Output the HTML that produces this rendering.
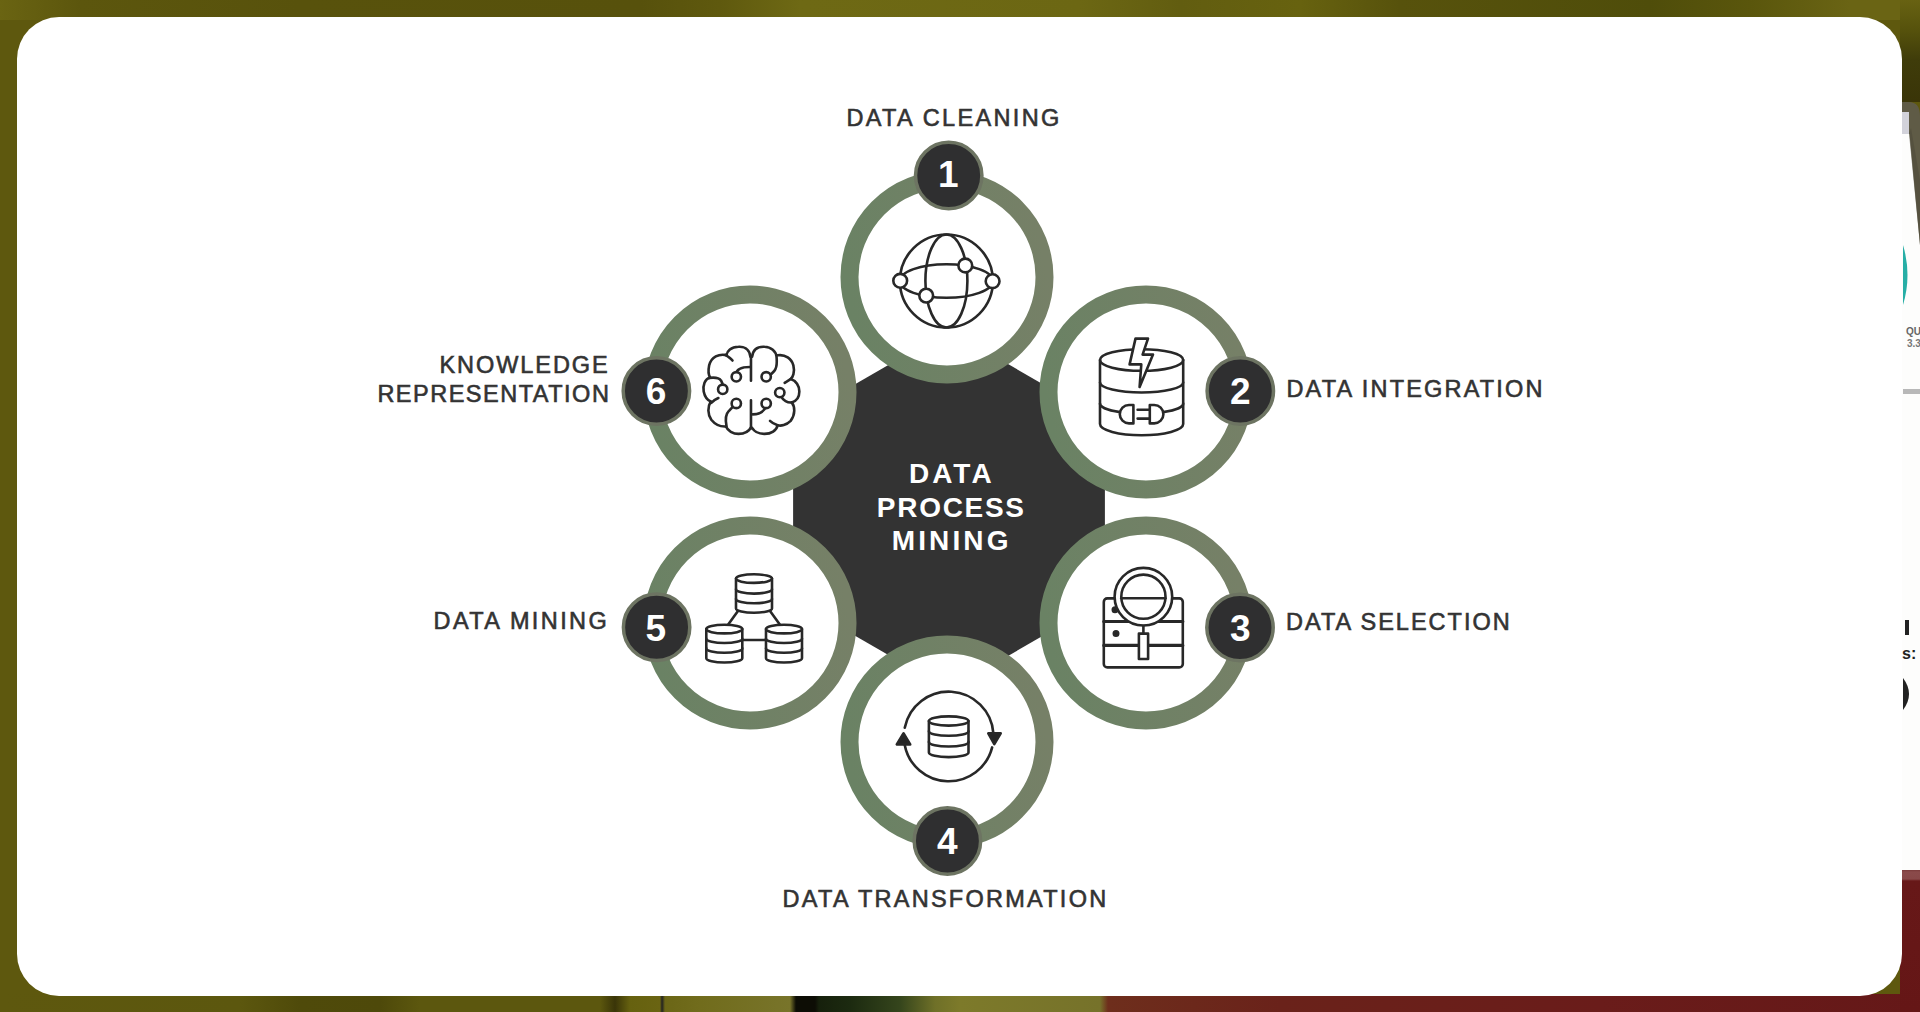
<!DOCTYPE html>
<html><head><meta charset="utf-8">
<style>
html,body{margin:0;padding:0;}
body{width:1920px;height:1012px;overflow:hidden;position:relative;background:#5a540e;font-family:"Liberation Sans",sans-serif;}
.bg{position:absolute;left:0;top:0;width:1920px;height:1012px;}
.card{position:absolute;left:17px;top:17px;width:1885px;height:979px;background:#fff;border-radius:42px;}
svg{position:absolute;left:0;top:0;}
</style></head><body>
<div class="bg" style="background:#5e580e;"></div>
<div class="bg" style="height:20px;background:linear-gradient(90deg,#6a6412 0px,#5c560d 80px,#58520c 300px,#57510c 640px,#5f590e 720px,#6e6914 800px,#6c6713 1080px,#625d10 1180px,#67620f 1300px,#57520c 1400px,#4f4d0a 1650px,#5a560c 1750px,#6a6414 1850px,#6a6414 1920px);"></div>
<div class="bg" style="left:1900px;width:20px;top:0;height:102px;background:linear-gradient(180deg,#686212 0px,#56520c 30px,#3f3c0a 60px,#3a3508 100px);"></div>
<div class="bg" style="top:994px;height:18px;background:linear-gradient(90deg,#5e580e 0px,#5c570e 240px,#4f4a0a 300px,#4e490a 380px,#5c570e 420px,#5c570e 600px,#3a3508 615px,#66610f 630px,#6a6412 660px,#222 662px,#6b6616 665px,#716c1c 700px,#78742a 790px,#0d0d05 796px,#0d0d05 815px,#16200c 819px,#1c2a10 850px,#35451c 900px,#6f7028 935px,#7d7a2a 960px,#76722a 1100px,#6e2e1c 1108px,#6a221a 1280px,#6a1c1a 1600px,#651818 1920px);"></div>
<div class="bg" style="left:1900px;width:20px;top:870px;height:142px;background:linear-gradient(180deg,#7a3a3a 0px,#8a4a4a 2px,#884848 9px,#671818 11px,#651616 100%);"></div>
<div class="bg" style="left:1900px;width:20px;top:134px;height:736px;background:#fdfdfc;"></div>
<svg width="1920" height="1012" style="position:absolute;left:0;top:0">
<path d="M1900,102 H1909 Q1920,102 1920,116 V245 L1909.5,134 H1900 Z" fill="#5f5b46"/>
<path d="M1909,134 L1920,245 L1920,180 L1911,128 Z" fill="#4e4b3a" opacity="0.6"/>
<rect x="1902" y="112" width="7" height="22" fill="#d2d2da"/>
<path d="M1903,245 Q1912,275 1903,305 Z" fill="#27aea6"/>
<text x="1906" y="335" font-family="Liberation Sans" font-weight="bold" font-size="10" fill="#666">QU</text>
<text x="1907" y="347" font-family="Liberation Sans" font-weight="bold" font-size="10" fill="#777">3.3</text>
<rect x="1903" y="389" width="17" height="5" fill="#b8b8b8"/>
<rect x="1905" y="620" width="4" height="15" fill="#222"/>
<text x="1902" y="659" font-family="Liberation Sans" font-weight="bold" font-size="16" fill="#222">s:</text>
<path d="M1903,678 Q1915,694 1903,710 Z" fill="#222"/>
</svg>
<div class="card"></div>
<svg width="1920" height="1012" viewBox="0 0 1920 1012">
<defs>
<linearGradient id="rg" x1="0" y1="0.6" x2="1" y2="0.4">
<stop offset="0" stop-color="#6a8264"/><stop offset="1" stop-color="#768067"/>
</linearGradient>
</defs>
<polygon points="949,330 1104.9,420 1104.9,600 949,690 793.1,600 793.1,420" fill="#333333"/>
<g fill="#fff" stroke="url(#rg)" stroke-width="18">
<circle cx="947" cy="277" r="97.5"/>
<circle cx="1146" cy="392" r="97.5"/>
<circle cx="1146" cy="623" r="97.5"/>
<circle cx="947" cy="742" r="97.5"/>
<circle cx="750" cy="623" r="97.5"/>
<circle cx="750" cy="392" r="97.5"/>
</g>
<g fill="none" stroke="#282828" stroke-width="2.6" stroke-linecap="round" stroke-linejoin="round">
<!-- icon 1 globe -->
<circle cx="946.4" cy="281" r="46.5"/>
<ellipse cx="946.4" cy="281" rx="21" ry="46.5"/>
<ellipse cx="946.4" cy="281" rx="46.5" ry="16.8"/>
<g fill="#fff">
<circle cx="900.2" cy="280.8" r="6.9"/>
<circle cx="992.6" cy="281.2" r="6.9"/>
<circle cx="965.3" cy="265.5" r="6.9"/>
<circle cx="926.2" cy="295.6" r="6.9"/>
</g>
<!-- icon 2 db + bolt -->
<ellipse cx="1141.6" cy="360" rx="41.6" ry="10.8"/>
<path d="M1100,360 V424 A41.6,11.2 0 0 0 1183.2,424 V360"/>
<path d="M1100,382.5 A41.6,10 0 0 0 1183.2,382.5"/>
<path d="M1100,403.5 A41.6,10 0 0 0 1120,412.1 M1163.2,412.1 A41.6,10 0 0 0 1183.2,403.5"/>
<polygon fill="#fff" points="1135.5,338.6 1148,338.6 1142.6,354.6 1153,354.6 1139.6,387 1141.3,364.4 1129.6,364.4"/>
<path fill="#fff" d="M1133.4,405 H1129 A9.2,9.2 0 0 0 1129,423.4 H1133.4 Z"/>
<path fill="#fff" d="M1149.8,405 H1154.2 A9.2,9.2 0 0 1 1154.2,423.4 H1149.8 Z"/>
<path d="M1137.6,409.8 H1149.6 M1137.6,418.6 H1149.6"/>
<!-- icon 3 server + magnifier -->
<rect x="1103.8" y="598.4" width="79" height="69" rx="3.5"/>
<path d="M1103.8,621.5 H1182.8 M1103.8,645.4 H1182.8" stroke-width="3.2"/>
<circle cx="1115" cy="609.8" r="2.2" fill="#262626"/>
<circle cx="1116" cy="633.4" r="2.2" fill="#262626"/>
<circle cx="1143.4" cy="596.7" r="28.8" fill="#fff"/>
<circle cx="1143.4" cy="596.7" r="22.1"/>
<path d="M1121.3,598.2 H1165.5"/>
<path d="M1143.4,626 V632.5"/>
<rect x="1138.9" y="633.6" width="9.2" height="25.4" fill="#fff"/>
<!-- icon 4 cycle db -->
<path d="M904.75,727.8 A44.8,44.8 0 0 1 993.39,733.3"/>
<path d="M904.66,744.7 A44.8,44.8 0 0 0 992.15,747.4"/>
<polygon fill="#262626" points="903.6,733.3 896.8,744.4 910.2,744.4"/>
<polygon fill="#262626" points="994.3,744.2 988.3,733.4 1000.7,733.4"/>
<ellipse cx="948.7" cy="721" rx="19.8" ry="4.6"/>
<path d="M928.9,721 V752.5 A19.8,4.6 0 0 0 968.5,752.5 V721"/>
<path d="M928.9,731.2 A19.8,4.6 0 0 0 968.5,731.2 M928.9,741.9 A19.8,4.6 0 0 0 968.5,741.9"/>
<!-- icon 5 three dbs -->
<ellipse cx="754" cy="578.6" rx="18" ry="4.3"/>
<path d="M736,578.6 V608.4 A18,4.3 0 0 0 772,608.4 V578.6"/>
<path d="M736,589.3 A18,4.3 0 0 0 772,589.3 M736,599 A18,4.3 0 0 0 772,599"/>
<ellipse cx="724.3" cy="629.1" rx="18" ry="4.3"/>
<path d="M706.3,629.1 V658.2 A18,4.3 0 0 0 742.3,658.2 V629.1"/>
<path d="M706.3,638.7 A18,4.3 0 0 0 742.3,638.7 M706.3,648.4 A18,4.3 0 0 0 742.3,648.4"/>
<ellipse cx="784" cy="629.1" rx="18" ry="4.3"/>
<path d="M766,629.1 V658.2 A18,4.3 0 0 0 802,658.2 V629.1"/>
<path d="M766,638.7 A18,4.3 0 0 0 802,638.7 M766,648.4 A18,4.3 0 0 0 802,648.4"/>
<path d="M737.6,611.6 L728.2,624.6 M770.4,611.6 L779.8,624.6 M742.3,640 H766"/>
<!-- icon 6 brain (local zoom coords) -->
<g transform="translate(695,335) scale(0.108696)" stroke-width="24">
<path d="M515,200 V420 M515,600 V860"/>
<path d="M510,200 C500,120 440,105 400,108 C330,110 295,150 290,185"/>
<path d="M290,185 C220,170 150,200 130,280 C120,330 125,370 140,390"/>
<path d="M280,182 C300,195 330,215 345,235"/>
<path d="M140,392 C90,400 70,470 80,520 C90,570 115,600 145,612"/>
<path d="M130,395 C170,390 220,390 240,420 C255,440 255,460 255,478"/>
<path d="M145,612 C115,660 115,730 150,780 C190,830 240,845 285,842"/>
<path d="M150,625 C170,605 190,590 215,580"/>
<path d="M285,842 C300,880 350,910 400,910 C460,910 500,880 515,850"/>
<path d="M290,840 C280,790 280,730 310,700 C330,680 345,660 360,652"/>
<path d="M525,200 C535,120 590,105 640,108 C700,110 745,150 750,200 C755,250 755,300 730,330 C715,350 695,365 677,372"/>
<path d="M760,187 C830,175 890,220 905,280 C920,340 900,390 880,405 C860,420 840,430 825,440"/>
<path d="M880,405 C930,420 960,470 960,520 C960,580 925,610 890,620 C850,625 810,600 795,570"/>
<path d="M890,620 C920,660 925,730 880,790 C840,830 790,840 760,830 C730,820 705,805 690,790"/>
<path d="M760,830 C750,880 700,910 640,910 C580,910 540,880 525,855"/>
<path d="M655,652 C640,700 600,730 530,730"/>
<path d="M380,362 C380,320 420,295 505,295"/>
<g fill="#fff">
<circle cx="380" cy="385" r="43"/>
<circle cx="655" cy="385" r="43"/>
<circle cx="255" cy="500" r="43"/>
<circle cx="780" cy="530" r="43"/>
<circle cx="380" cy="630" r="43"/>
<circle cx="655" cy="630" r="43"/>
</g>
</g>
</g>
<g fill="#2f2f30" stroke="#6d7462" stroke-width="3.5">
<circle cx="948.7" cy="175.5" r="33.2"/>
<circle cx="1240.3" cy="391" r="33.2"/>
<circle cx="1240" cy="627.5" r="33.2"/>
<circle cx="947.4" cy="841" r="33.2"/>
<circle cx="656.6" cy="627.3" r="33.2"/>
<circle cx="656.4" cy="391" r="33.2"/>
</g>
<g fill="#fff" font-family="Liberation Sans" font-weight="bold" font-size="37" text-anchor="middle">
<text x="948.2" y="187.2">1</text>
<text x="1240.3" y="404">2</text>
<text x="1240.3" y="641">3</text>
<text x="947.2" y="853.5">4</text>
<text x="655.8" y="641">5</text>
<text x="656" y="404">6</text>
</g>
<g fill="#333" stroke="#333" stroke-width="0.6" font-family="Liberation Sans" font-size="23.5">
<text x="846.4" y="126" letter-spacing="2.37">DATA CLEANING</text>
<text x="1286.4" y="396.8" letter-spacing="2.19">DATA INTEGRATION</text>
<text x="1286.1" y="629.5" letter-spacing="2.0">DATA SELECTION</text>
<text x="782.6" y="906.5" letter-spacing="2.26">DATA TRANSFORMATION</text>
<text x="433.6" y="629" letter-spacing="2.38">DATA MINING</text>
<text x="439.4" y="373" letter-spacing="1.94">KNOWLEDGE</text>
<text x="377.4" y="402" letter-spacing="1.5">REPRESENTATION</text>
</g>
<g fill="#fff" font-family="Liberation Sans" font-weight="bold" font-size="28">
<text x="909" y="483.3" letter-spacing="3.0">DATA</text>
<text x="876.8" y="516.5" letter-spacing="1.72">PROCESS</text>
<text x="891.7" y="550" letter-spacing="3.14">MINING</text>
</g>
</svg>
</body></html>
